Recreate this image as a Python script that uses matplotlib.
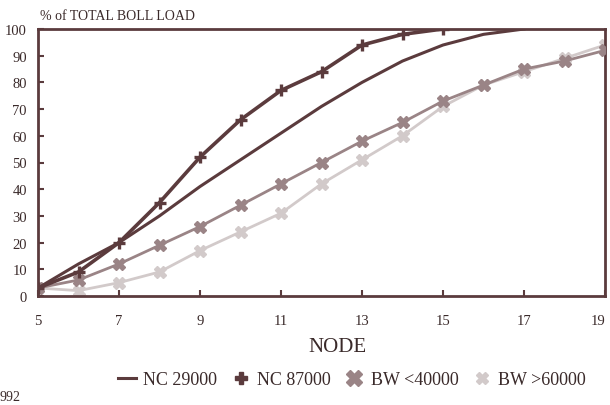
import matplotlib
matplotlib.use("Agg")
import matplotlib.pyplot as plt
from matplotlib.lines import Line2D

# node numbers and % of total boll load
nodes_nc29 = [5, 6, 7, 8, 9, 10, 11, 12, 13, 14, 15, 16, 17]
nc29000 = [3, 12, 20, 30, 41, 51, 61, 71, 80, 88, 94, 98, 100]

nodes_nc87 = [5, 6, 7, 8, 9, 10, 11, 12, 13, 14, 15]
nc87000 = [3, 9, 20, 35, 52, 66, 77, 84, 94, 98, 100]

nodes_bw = [5, 6, 7, 8, 9, 10, 11, 12, 13, 14, 15, 16, 17, 18, 19]
bw_lt40 = [3, 6, 12, 19, 26, 34, 42, 50, 58, 65, 73, 79, 85, 88, 92]
bw_gt60 = [3, 2, 5, 9, 17, 24, 31, 42, 51, 60, 71, 79, 84, 89, 94]

x_ticks = [5, 7, 9, 11, 13, 15, 17, 19]
y_ticks = [0, 10, 20, 30, 40, 50, 60, 70, 80, 90, 100]

dark = "#5b3b3d"
mid = "#9a8486"
light = "#d2caca"

plt.rcParams['font.family'] = ['Liberation Serif', 'DejaVu Serif']

fig = plt.figure(figsize=(6.1, 4.06), dpi=100)
ax = fig.add_axes([38 / 610, 1 - 297 / 406, 567 / 610, 267 / 406])

ax.plot(nodes_bw, bw_gt60, color=light, lw=2, marker="X", ms=8, mec=light, mfc=light, zorder=2)
ax.plot(nodes_bw, bw_lt40, color=mid, lw=2, marker="X", ms=9, mec=mid, mfc=mid, zorder=3)
ax.plot(nodes_nc29, nc29000, color=dark, lw=2.2, zorder=4)
ax.plot(nodes_nc87, nc87000, color=dark, lw=2.6, marker="+", ms=9, mew=2.4, zorder=5)

ax.set_xlim(5, 19)
ax.set_ylim(0, 100)
ax.set_xticks(x_ticks)
ax.set_yticks(y_ticks)
ax.tick_params(direction="in", length=4, width=1.5, color=dark, labelcolor="#3a2a2a",
               labelsize=10.5)
ax.tick_params(axis="x", pad=13)
ax.tick_params(axis="y", pad=8)
# last label sits at the right edge of the figure
ax.get_xticklabels()[-1].set_horizontalalignment("right")
for side in ax.spines.values():
    side.set_color(dark)
    side.set_linewidth(2)

fig.text(40 / 610, 1 - 17 / 406, "% of TOTAL BOLL LOAD", fontsize=10, color="#3a2a2a",
         ha="left", va="center")
fig.text(337 / 610, 1 - 348 / 406, "NODE", fontsize=15, color="#3a2a2a",
         ha="center", va="center")
fig.text(0, 1 - 398 / 406, "992", fontsize=10, color="#3a2a2a", ha="left", va="center")

handles = [
    Line2D([], [], color=dark, lw=2.2),
    Line2D([], [], color=dark, lw=0, marker="P", ms=9),
    Line2D([], [], color=mid, lw=0, marker="X", ms=11),
    Line2D([], [], color=light, lw=0, marker="X", ms=9),
]
labels = ["NC 29000", "NC 87000", "BW <40000", "BW >60000"]
fig.legend(handles, labels, loc="center", bbox_to_anchor=(352 / 610, 1 - 381 / 406),
           ncol=4, frameon=False, fontsize=13, handlelength=1.0, handletextpad=0.4,
           columnspacing=0.8, labelcolor="#3a2a2a")

fig.savefig("out.png", dpi=100)
